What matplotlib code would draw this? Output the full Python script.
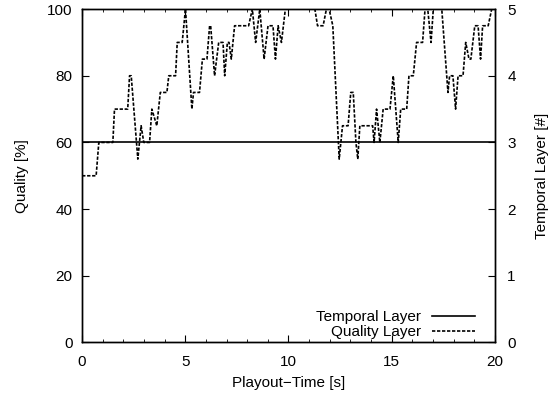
import numpy as np
import matplotlib
matplotlib.use('Agg')
import matplotlib.pyplot as plt
from matplotlib.ticker import MultipleLocator

plt.rcParams['font.family'] = ['Liberation Sans', 'DejaVu Sans']
plt.rcParams['font.size'] = 11

# quality layer over playout time
time_s = [0.0, 0.68, 0.81, 1.49, 1.57, 2.21, 2.30, 2.38, 2.70, 2.86, 2.99, 3.27, 3.38,
          3.62, 3.79, 4.11, 4.20, 4.53, 4.61, 4.85, 5.01, 5.32, 5.40, 5.69, 5.83, 6.05,
          6.18, 6.23, 6.42, 6.62, 6.83, 6.91, 7.04, 7.12, 7.23, 7.39, 8.07, 8.25, 8.41,
          8.61, 8.82, 9.01, 9.25, 9.37, 9.50, 9.66, 9.85, 11.28, 11.41, 11.68, 11.84,
          11.97, 12.15, 12.46, 12.62, 12.89, 13.02, 13.14, 13.27, 13.36, 13.46, 14.08,
          14.15, 14.27, 14.43, 14.59, 14.92, 15.08, 15.32, 15.44, 15.73, 15.84, 16.05,
          16.21, 16.50, 16.62, 16.75, 16.91, 17.02, 17.43, 17.73, 17.81, 17.97, 18.10,
          18.22, 18.46, 18.59, 18.75, 18.84, 19.03, 19.19, 19.31, 19.41, 19.68, 19.85,
          19.90]
quality_pct = [50, 50, 60, 60, 70, 70, 80, 80, 55, 65, 60, 60, 70,
               65, 75, 75, 80, 80, 90, 90, 100, 70, 75, 75, 85, 85,
               95, 95, 80, 90, 90, 80, 90, 90, 85, 95, 95, 100, 90,
               100, 85, 95, 95, 85, 95, 90, 100, 100, 95, 95, 100,
               100, 95, 55, 65, 65, 75, 75, 60, 55, 65, 65,
               60, 70, 60, 70, 70, 80, 60, 70, 70, 80, 80,
               90, 90, 100, 100, 90, 100, 100, 75, 80, 80, 70,
               80, 80, 90, 85, 85, 95, 95, 85, 95, 95, 100,
               100]

# temporal layer stays constant
layer_time = [0, 20]
temporal_layer = [3, 3]

fig = plt.figure(figsize=(5.51, 3.95), dpi=100)
ax = fig.add_axes([0.149, 0.133, 0.749, 0.844])
ax2 = ax.twinx()

l2, = ax.plot(time_s, quality_pct, color='black', lw=1.2, dashes=(2, 1),
              label='Quality Layer')
l1, = ax2.plot(layer_time, temporal_layer, color='black', lw=1.2,
               label='Temporal Layer')

ax.set_xlim(0, 20)
ax.set_ylim(0, 100)
ax2.set_ylim(0, 5)

ax.xaxis.set_major_locator(MultipleLocator(5))
ax.xaxis.set_minor_locator(MultipleLocator(1))
ax.yaxis.set_major_locator(MultipleLocator(20))
ax2.yaxis.set_major_locator(MultipleLocator(1))

ax.tick_params(axis='x', which='both', direction='in', top=True, pad=9)
ax.tick_params(axis='x', which='major', length=5)
ax.tick_params(axis='x', which='minor', length=2.5)
ax.tick_params(axis='y', direction='in', length=5, pad=7, right=False)
ax2.tick_params(axis='y', direction='in', length=5, pad=9)

for a in (ax, ax2):
    for s in a.spines.values():
        s.set_linewidth(1.0)

ax.set_xlabel('Playout\u2212Time [s]', labelpad=5)
ax.set_ylabel('Quality [%]', labelpad=13)
ax2.set_ylabel('Temporal Layer [#]', labelpad=14)

ax2.legend([l1, l2], ['Temporal Layer', 'Quality Layer'], loc='lower right',
           bbox_to_anchor=(0.951, 0.01), frameon=False, markerfirst=False,
           handlelength=2.8, handletextpad=0.7, labelspacing=0.05,
           borderpad=0, borderaxespad=0)

plt.savefig('out.png', dpi=100)
